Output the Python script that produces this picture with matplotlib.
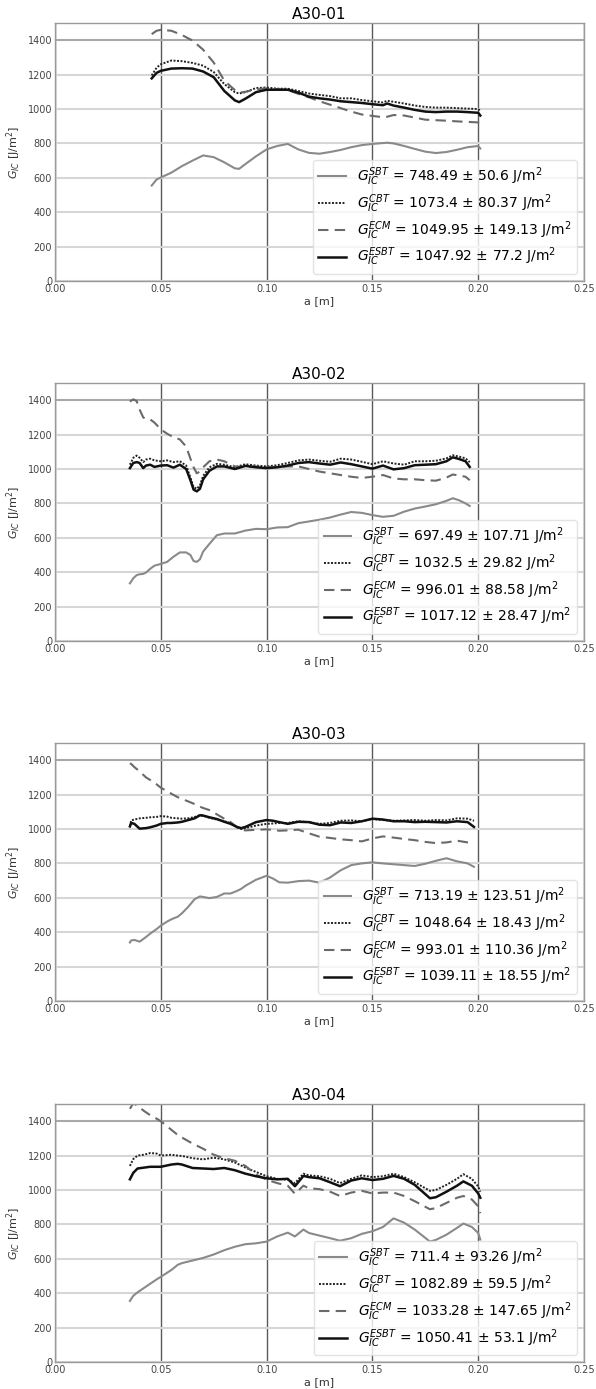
import matplotlib
matplotlib.use("Agg")
import matplotlib.pyplot as plt

# ---------------- data ----------------
titles = ["A30-01", "A30-02", "A30-03", "A30-04"]

a_01 = [0.0457, 0.048, 0.05, 0.055, 0.06, 0.065, 0.07, 0.075, 0.08, 0.085, 0.087, 0.09, 0.095, 0.1,
        0.105, 0.11, 0.115, 0.12, 0.125, 0.13, 0.135, 0.14, 0.145, 0.15, 0.155, 0.157, 0.16, 0.165,
        0.17, 0.175, 0.18, 0.185, 0.19, 0.195, 0.2, 0.201]
sbt_01 = [555, 590, 602, 630, 668, 700, 730, 720, 690, 655, 652, 680, 725, 765,
          785, 797, 765, 745, 740, 750, 762, 778, 790, 797, 802, 804, 800, 785,
          768, 752, 744, 750, 763, 778, 785, 770]
cbt_01 = [1195, 1240, 1260, 1282, 1278, 1268, 1252, 1215, 1145, 1098, 1090, 1098, 1122, 1125,
          1118, 1118, 1105, 1090, 1082, 1075, 1062, 1062, 1052, 1045, 1038, 1048, 1042, 1032,
          1020, 1012, 1008, 1008, 1005, 1002, 1000, 990]
ecm_01 = [1435, 1455, 1460, 1455, 1430, 1398, 1345, 1270, 1165, 1110, 1095, 1100, 1115, 1120,
          1115, 1110, 1088, 1068, 1045, 1025, 1005, 985, 968, 960, 952, 955, 965, 962,
          950, 938, 935, 932, 928, 925, 922, 920]
esbt_01 = [1178, 1210, 1222, 1235, 1237, 1235, 1218, 1185, 1105, 1050, 1040, 1060, 1098, 1112,
           1112, 1112, 1095, 1072, 1062, 1055, 1045, 1040, 1035, 1028, 1022, 1032, 1020, 1008,
           995, 985, 982, 985, 985, 982, 978, 962]

a_02 = [0.0354, 0.037, 0.0386, 0.04, 0.0417, 0.043, 0.045, 0.047, 0.05, 0.053, 0.056, 0.059,
        0.062, 0.064, 0.0655, 0.067, 0.0685, 0.07, 0.073, 0.0765, 0.08, 0.085, 0.09, 0.095, 0.1,
        0.105, 0.11, 0.115, 0.12, 0.125, 0.13, 0.135, 0.14, 0.145, 0.15, 0.155, 0.16, 0.165,
        0.17, 0.175, 0.18, 0.185, 0.188, 0.191, 0.194, 0.196]
sbt_02 = [335, 365, 383, 388, 390, 398, 420, 438, 448, 460, 490, 515,
          515, 500, 465, 460, 475, 520, 565, 615, 625, 625, 642, 652, 650,
          660, 662, 685, 695, 705, 718, 735, 750, 745, 732, 722, 728, 752,
          770, 782, 795, 815, 830, 818, 800, 785]
cbt_02 = [1025, 1065, 1078, 1065, 1040, 1055, 1060, 1050, 1045, 1050, 1040, 1045,
          1020, 950, 895, 885, 905, 960, 1010, 1030, 1025, 1010, 1028, 1020, 1015,
          1022, 1035, 1050, 1055, 1048, 1042, 1060, 1055, 1042, 1028, 1045, 1032, 1025,
          1045, 1045, 1048, 1062, 1080, 1072, 1062, 1040]
ecm_02 = [1392, 1405, 1395, 1345, 1300, 1290, 1288, 1270, 1230, 1205, 1185, 1172,
          1130, 1060, 1010, 975, 985, 1010, 1045, 1055, 1045, 1015, 1010, 1015, 1010,
          1012, 1015, 1015, 1000, 985, 975, 965, 955, 948, 955, 965, 945, 940,
          940, 935, 932, 950, 968, 962, 955, 935]
esbt_02 = [1005, 1035, 1040, 1035, 1005, 1020, 1025, 1012, 1020, 1022, 1008, 1025,
           1000, 935, 880, 870, 885, 940, 990, 1015, 1015, 1000, 1018, 1010, 1005,
           1010, 1020, 1035, 1040, 1032, 1025, 1038, 1028, 1015, 1002, 1020, 998, 1005,
           1022, 1025, 1028, 1045, 1068, 1058, 1045, 1012]

a_03 = [0.0354, 0.036, 0.0375, 0.04, 0.043, 0.045, 0.048, 0.05, 0.053, 0.055, 0.058, 0.06,
        0.063, 0.066, 0.0685, 0.07, 0.073, 0.0765, 0.08, 0.083, 0.086, 0.088, 0.09, 0.095,
        0.1, 0.103, 0.106, 0.11, 0.115, 0.12, 0.125, 0.13, 0.135, 0.14, 0.145, 0.15, 0.155,
        0.16, 0.165, 0.17, 0.175, 0.18, 0.185, 0.19, 0.195, 0.198]
sbt_03 = [340, 352, 355, 345, 372, 392, 418, 438, 462, 475, 490, 510,
          548, 592, 608, 605, 598, 605, 625, 625, 640, 652, 670, 705,
          728, 712, 690, 688, 697, 700, 688, 718, 760, 790, 800, 806, 800,
          795, 790, 785, 798, 815, 830, 812, 800, 780]
cbt_03 = [1015, 1050, 1055, 1062, 1065, 1068, 1070, 1075, 1072, 1065, 1062, 1060,
          1062, 1070, 1080, 1078, 1065, 1055, 1045, 1035, 1010, 1000, 1005, 1020,
          1030, 1032, 1035, 1035, 1045, 1040, 1030, 1035, 1048, 1050, 1045, 1058, 1052,
          1048, 1050, 1052, 1048, 1052, 1050, 1062, 1060, 1048]
ecm_03 = [1382, 1378, 1360, 1335, 1300, 1285, 1260, 1240, 1220, 1205, 1185, 1175,
          1160, 1145, 1130, 1122, 1110, 1085, 1060, 1040, 1010, 995, 992, 995,
          998, 995, 990, 992, 996, 975, 955, 948, 940, 935, 928, 945, 957,
          950, 942, 935, 925, 918, 922, 932, 922, 918]
esbt_03 = [1015, 1035, 1030, 1002, 1005, 1010, 1020, 1030, 1035, 1035, 1038, 1042,
           1052, 1062, 1080, 1078, 1068, 1058, 1042, 1030, 1012, 1005, 1012, 1040,
           1052, 1048, 1040, 1030, 1042, 1040, 1025, 1022, 1038, 1035, 1045, 1060, 1055,
           1045, 1045, 1040, 1042, 1040, 1038, 1045, 1040, 1012]

a_04 = [0.0354, 0.037, 0.039, 0.042, 0.045, 0.048, 0.05, 0.055, 0.058, 0.06, 0.065, 0.07,
        0.075, 0.08, 0.085, 0.09, 0.095, 0.1, 0.105, 0.11, 0.1134, 0.1174, 0.12, 0.125,
        0.13, 0.1347, 0.14, 0.145, 0.15, 0.155, 0.16, 0.165, 0.17, 0.1772, 0.18, 0.185,
        0.19, 0.193, 0.197, 0.2, 0.201]
sbt_04 = [355, 385, 405, 430, 455, 480, 495, 535, 565, 575, 590, 605,
          625, 650, 670, 685, 690, 700, 730, 752, 730, 770, 750, 735,
          720, 705, 720, 745, 760, 785, 835, 810, 770, 700, 710, 740,
          780, 805, 785, 750, 712]
cbt_04 = [1140, 1180, 1200, 1205, 1215, 1212, 1200, 1205, 1200, 1198, 1185, 1178,
          1188, 1178, 1160, 1130, 1105, 1080, 1065, 1060, 1040, 1095, 1085, 1080,
          1065, 1040, 1065, 1085, 1075, 1080, 1095, 1075, 1045, 995, 1000, 1030,
          1065, 1092, 1065, 1020, 990]
ecm_04 = [1472, 1505, 1490, 1460, 1435, 1415, 1400, 1350, 1320, 1305, 1270, 1240,
          1205, 1185, 1170, 1140, 1090, 1060, 1040, 1025, 978, 1025, 1010, 1005,
          990, 965, 985, 995, 980, 985, 985, 965, 935, 888, 895, 925,
          955, 965, 945, 905, 865]
esbt_04 = [1062, 1100, 1125, 1130, 1135, 1135, 1135, 1148, 1152, 1148, 1128, 1125,
           1122, 1128, 1115, 1095, 1080, 1068, 1062, 1065, 1022, 1082, 1075, 1068,
           1045, 1022, 1055, 1068, 1058, 1065, 1082, 1065, 1030, 952, 958, 990,
           1025, 1050, 1025, 980, 955]

mean_sbt = ["748.49", "697.49", "713.19", "711.4"]
std_sbt = ["50.6", "107.71", "123.51", "93.26"]
mean_cbt = ["1073.4", "1032.5", "1048.64", "1082.89"]
std_cbt = ["80.37", "29.82", "18.43", "59.5"]
mean_ecm = ["1049.95", "996.01", "993.01", "1033.28"]
std_ecm = ["149.13", "88.58", "110.36", "147.65"]
mean_esbt = ["1047.92", "1017.12", "1039.11", "1050.41"]
std_esbt = ["77.2", "28.47", "18.55", "53.1"]

x_ticks = [0.00, 0.05, 0.10, 0.15, 0.20, 0.25]
y_ticks = [0, 200, 400, 600, 800, 1000, 1200, 1400]

panels = [
    (a_01, sbt_01, cbt_01, ecm_01, esbt_01),
    (a_02, sbt_02, cbt_02, ecm_02, esbt_02),
    (a_03, sbt_03, cbt_03, ecm_03, esbt_03),
    (a_04, sbt_04, cbt_04, ecm_04, esbt_04),
]

# ---------------- figure ----------------
W, H = 596, 1389
fig = plt.figure(figsize=(W / 100, H / 100), dpi=100)

tops_px = [23, 383, 743, 1104]
ax_h_px = 258
left_px, right_px = 55, 584

for i, (a, sbt, cbt, ecm, esbt) in enumerate(panels):
    bottom = 1 - (tops_px[i] + ax_h_px) / H
    ax = fig.add_axes([left_px / W, bottom, (right_px - left_px) / W, ax_h_px / H])

    ax.plot(a, sbt, color="#8a8a8a", lw=1.5, ls="-",
            label=r"$G_{IC}^{SBT}$ = %s ± %s J/m$^2$" % (mean_sbt[i], std_sbt[i]))
    ax.plot(a, cbt, color="#222222", lw=1.4, ls=(0, (1, 0.8)),
            label=r"$G_{IC}^{CBT}$ = %s ± %s J/m$^2$" % (mean_cbt[i], std_cbt[i]))
    ax.plot(a, ecm, color="#6a6a6a", lw=1.5, ls=(0, (5, 3)),
            label=r"$G_{IC}^{ECM}$ = %s ± %s J/m$^2$" % (mean_ecm[i], std_ecm[i]))
    ax.plot(a, esbt, color="#111111", lw=1.8, ls="-",
            label=r"$G_{IC}^{ESBT}$ = %s ± %s J/m$^2$" % (mean_esbt[i], std_esbt[i]))

    ax.set_xlim(0, 0.25)
    ax.set_ylim(0, 1500)
    ax.set_xticks(x_ticks)
    ax.set_xticklabels(["%.2f" % v for v in x_ticks])
    ax.set_yticks(y_ticks)
    ax.tick_params(axis="both", length=0, labelsize=7, colors="#444444", pad=2)

    ax.set_axisbelow(True)
    ax.grid(axis="y", color="#d6d6d6", lw=1.5)
    ax.grid(axis="x", color="#5a5a5a", lw=1.0)
    ax.get_ygridlines()[-1].set_color("#a8a8a8")
    for s in ax.spines.values():
        s.set_color("#999999")
        s.set_linewidth(1.0)

    ax.set_title(titles[i], fontsize=11, pad=3)
    ax.set_xlabel("a [m]", fontsize=8, color="#333333", labelpad=2)
    ax.set_ylabel(r"$G_{IC}$ [J/m$^2$]", fontsize=8, color="#333333", labelpad=3)

    ax.legend(loc="lower right", fontsize=10, handlelength=2.0,
              labelspacing=0.3, borderaxespad=0.5, framealpha=0.8,
              edgecolor="#dddddd")

fig.savefig("out.png", dpi=100)
